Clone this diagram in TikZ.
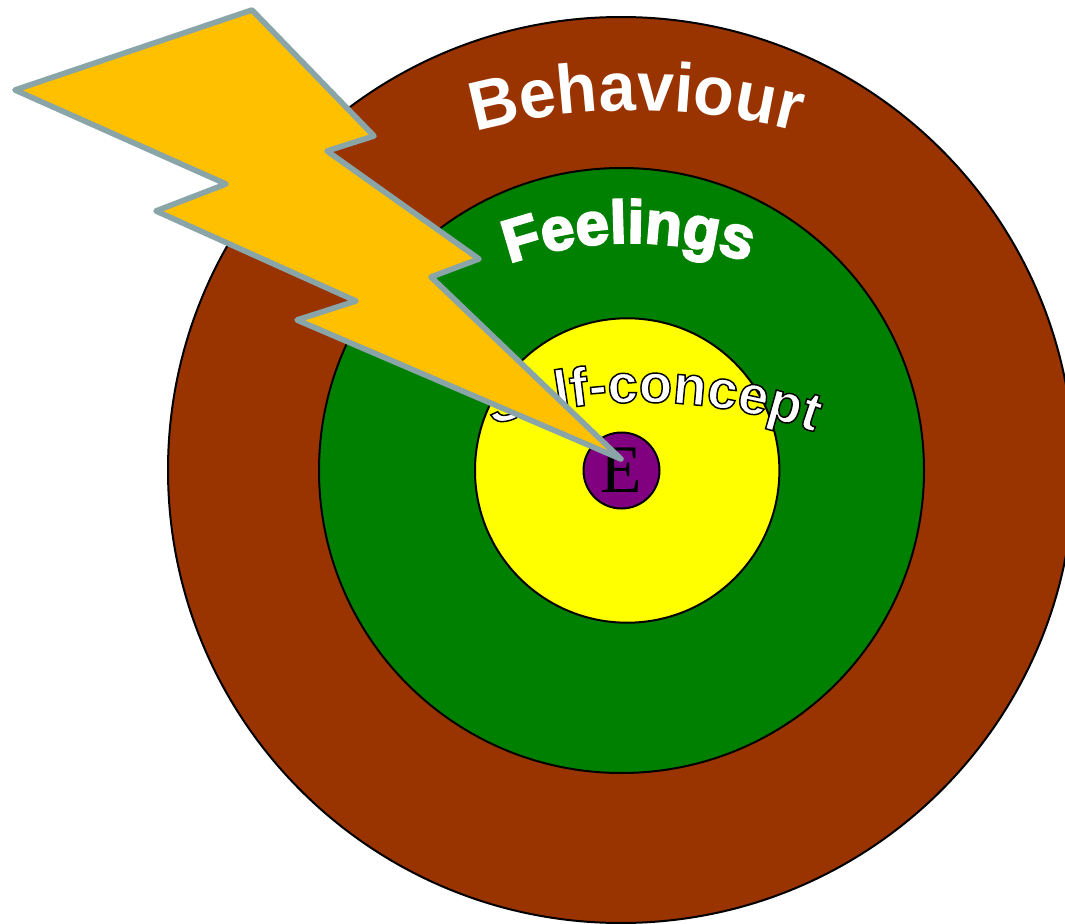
\documentclass[tikz,border=0pt]{standalone}
\usepackage{fontspec}
\usetikzlibrary{decorations.text}
\setmainfont{Liberation Serif}
\newfontface\behfont[FakeStretch = 0.96]{Liberation Sans Bold}
\newfontface\feelfont{Liberation Sans Bold}
\newfontface\selffont{Liberation Sans Bold}
\definecolor{behcol}{HTML}{993300}
\definecolor{feelcol}{HTML}{008000}
\definecolor{selfcol}{HTML}{FFFF00}
\definecolor{egocol}{HTML}{800080}
\definecolor{boltcol}{HTML}{FFC000}
\definecolor{boltedge}{HTML}{8AA5A8}
\tikzset{
    ring/.style = {circle, draw = black, line width = 1.5pt, inner sep = 0pt},
    bolt/.style = {fill = boltcol, draw = boltedge, line width = 4.2pt, line join = round},
    wordart/.style = {decorate, decoration = {text along path, text color = white, text align = center, text = {#1}}}
}
\begin{document}
\begin{tikzpicture}[x = 0.75pt, y = -0.75pt]
        \useasboundingbox (0, 0) rectangle (1065, 924);
        \foreach \n/\x/\y/\r/\c in {behaviour/621/470/453/behcol, feelings/621.5/470.5/302.5/feelcol, selfconcept/627.2/470.5/152.2/selfcol}{
            \pgfmathsetmacro{\dia}{1.5 * \r}
            \node[ring, fill = \c, minimum size = \dia pt] (\n) at (\x, \y) {};
        }
        \node[ring, fill = egocol, minimum size = 57pt, font = \fontsize{51}{51}\selectfont] (ego) at (621.5, 470.5) {E};
        % the three words
        \path[wordart = {|\fontsize{52}{52}\behfont|Behaviour}] (478, 131) .. controls (580, 103) and (692, 104) .. (795, 131);
        \path[wordart = {|\fontsize{45}{45}\feelfont\special{pdf:code 2 Tr 1.6 w 1 1 1 RG}|Feelings}] (508, 264) .. controls (590, 235) and (670, 237) .. (750, 262);
        \path[wordart = {|\fontsize{41}{41}\selffont\special{pdf:code 2 Tr 1.1 w 0 0 0 RG}|Self-concept}] (486, 427) .. controls (590, 393) and (710, 393) .. (820, 434);
        \draw[bolt] (252, 10) -- (374, 136) -- (327, 151) -- (479, 259) -- (431, 277) -- (621, 459) -- (297, 320) -- (356, 301) -- (156, 211) -- (226, 184) -- (15, 90) -- cycle;
    \end{tikzpicture}
\end{document}
